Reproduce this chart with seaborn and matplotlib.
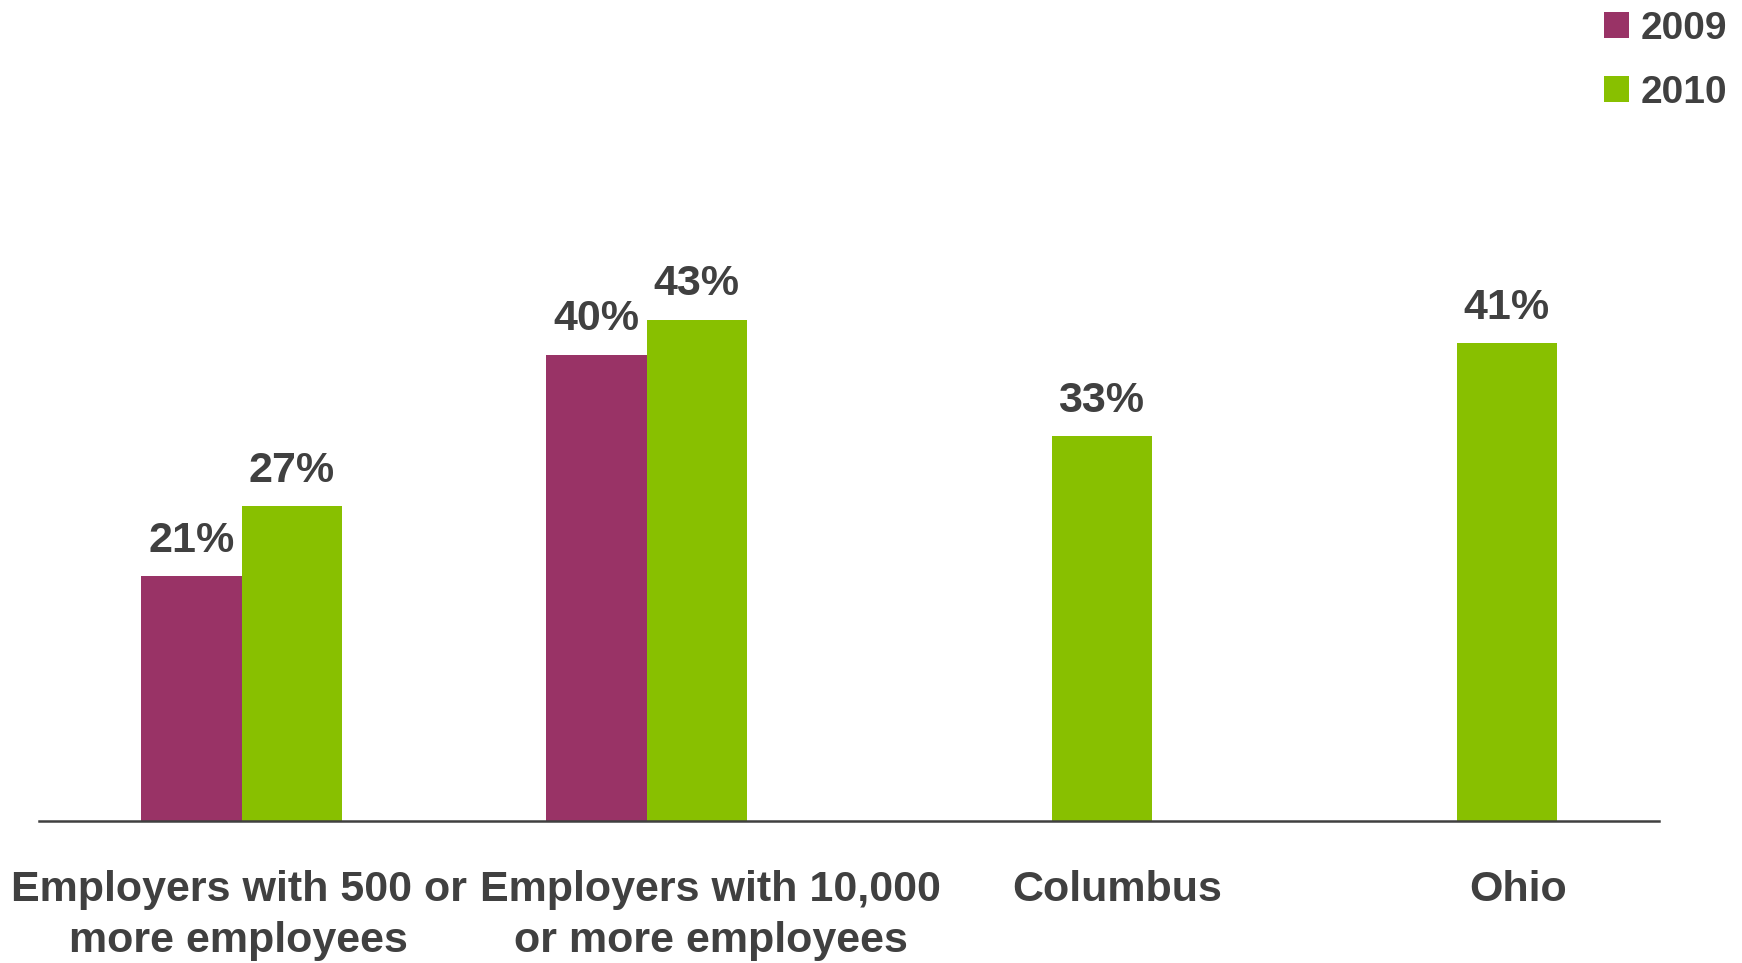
import matplotlib
matplotlib.use("Agg")
import matplotlib.pyplot as plt
import matplotlib.transforms as mtransforms
import seaborn as sns
import pandas as pd

# ---- data ----
categories = ["Employers with 500 or\nmore employees",
              "Employers with 10,000\nor more employees",
              "Columbus",
              "Ohio"]
years = ["2009", "2010"]
values_2009 = [21, 40, None, None]
values_2010 = [27, 43, 33, 41]

colors = {"2009": "#993366", "2010": "#88C000"}
text_color = "#404040"

rows = []
for cat, v9, v10 in zip(categories, values_2009, values_2010):
    if v9 is not None:
        rows.append({"category": cat, "year": "2009", "value": v9})
    if v10 is not None:
        rows.append({"category": cat, "year": "2010", "value": v10})
df = pd.DataFrame(rows)

sns.set_theme(style="white")
plt.rcParams["font.family"] = ["Liberation Sans", "DejaVu Sans"]
plt.rcParams["font.weight"] = "bold"

W, H, DPI = 1742, 963, 100
fig = plt.figure(figsize=(W / DPI, H / DPI), dpi=DPI)
ax = fig.add_axes([39 / W, 1 - 821 / H, (1659 - 39) / W, (821 - 150) / H])

sns.barplot(data=df, x="category", y="value", hue="year",
            order=categories, hue_order=years, palette=colors,
            width=0.494, dodge=True, saturation=1, errorbar=None,
            linewidth=0, ax=ax)

ax.set_xlim(-0.5, 3.5)
ax.set_ylim(0, (821 - 150) / 11.66)

for cont in ax.containers:
    ax.bar_label(cont, fmt="{:.0f}%", padding=11, fontsize=31,
                 fontweight="bold", color=text_color)

# axes styling
for side in ["top", "right", "left"]:
    ax.spines[side].set_visible(False)
ax.spines["bottom"].set_color(text_color)
ax.spines["bottom"].set_linewidth(1.8)
ax.set_yticks([])
ax.set_xlabel("")
ax.set_ylabel("")
ax.tick_params(axis="x", length=0, pad=35, labelsize=31, labelcolor=text_color)

offsets_px = [-3, 64, 66, 62]
for lbl, dx in zip(ax.get_xticklabels(), offsets_px):
    lbl.set_fontweight("bold")
    lbl.set_linespacing(1.36)
    lbl.set_transform(lbl.get_transform() +
                      mtransforms.ScaledTranslation(dx / DPI, 0, fig.dpi_scale_trans))

leg = ax.legend(loc="upper right", bbox_to_anchor=(1727 / W, 1 - 11 / H),
                bbox_transform=fig.transFigure, frameon=False,
                fontsize=28, handlelength=0.64, handleheight=0.64,
                handletextpad=0.3, labelspacing=0.72, borderpad=0,
                borderaxespad=0)
for t in leg.get_texts():
    t.set_color(text_color)
    t.set_fontweight("bold")

fig.savefig("out.png", dpi=DPI)
